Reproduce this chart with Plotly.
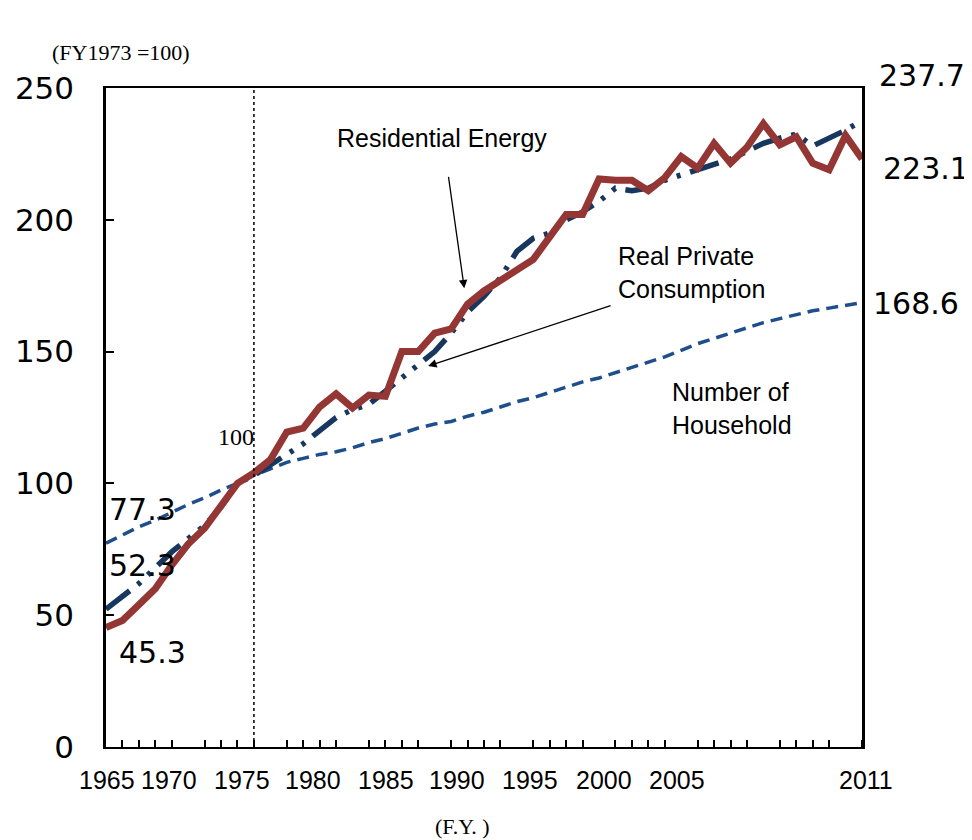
import plotly.graph_objects as go

years = list(range(1965, 2012))

residential_energy = [45.3, 48, 54, 60, 69, 77, 83, 92, 100, 104, 109, 119.5, 121, 129, 134,
                      128.6, 133.5, 133, 150, 150, 157, 158.6, 168, 173, 177, 181, 185, 193.5,
                      202, 202, 215.5, 215, 215, 211, 216, 224, 219.6, 229, 221.5, 227.5, 236.5,
                      228.4, 231.5, 221.5, 219, 232, 223.1]

real_private_consumption = [52.3, 57, 62, 68, 74, 79, 84, 91, 100, 103, 107, 111, 115, 120, 125,
                            128, 130, 135, 140, 145, 150, 157, 165, 171, 178, 188, 193, 195,
                            200, 203, 207, 212, 211, 212, 215, 217, 219, 221, 223, 226, 229,
                            231, 232.5, 228, 231, 234, 237.7]

number_of_household = [77.3, 80.5, 83.5, 86, 89, 92, 94.5, 97.5, 100, 103, 105.5, 108, 109.5, 111,
                       112, 113.5, 115.5, 117, 119, 121, 122.5, 123.5, 125.5, 127, 129, 131, 132.5,
                       134.5, 136.5, 138.5, 140, 142, 144, 146, 148, 150.5, 153, 155, 157, 159,
                       161, 162.5, 164, 165.5, 166.5, 167.5, 168.6]

x_tick_labels = ["1965", "1970", "1975", "1980", "1985", "1990", "1995", "2000", "2005", "2011"]
x_tick_positions = [1965.06, 1968.83, 1973.28, 1977.6, 1982.04, 1986.36, 1990.8, 1995.3, 1999.75, 2011.26]
y_tick_values = [0, 50, 100, 150, 200, 250]

base_year_line = 1974
x_min, x_max = 1965, 2011

red = "#943634"
navy = "#17375E"
hh_blue = "#1F4E8C"

fig = go.Figure()

fig.add_trace(go.Scatter(x=years, y=number_of_household, mode="lines",
                         line=dict(color=hh_blue, width=3.5, dash="12px,7px"),
                         name="Number of Household", hoverinfo="skip"))
fig.add_trace(go.Scatter(x=years, y=real_private_consumption, mode="lines",
                         line=dict(color=navy, width=5.5, dash="30px,10px,4px,10px,4px,10px"),
                         name="Real Private Consumption", hoverinfo="skip"))
fig.add_trace(go.Scatter(x=years, y=residential_energy, mode="lines",
                         line=dict(color=red, width=7),
                         name="Residential Energy", hoverinfo="skip"))

fig.add_shape(type="line", x0=base_year_line, x1=base_year_line, y0=0, y1=250,
              xref="x", yref="y", line=dict(color="black", width=1.5, dash="dot"))

num_font = dict(family="DejaVu Sans", size=30, color="black")
txt_font = dict(family="Liberation Sans", size=25, color="black")
serif_font = dict(family="Liberation Serif", size=22, color="black")
xtick_font = dict(family="Liberation Sans", size=25, color="black")

def px_x(p):
    return (p - 106) / 756.0

def px_y(p):
    return (747 - p) / 659.0

annos = [
    dict(text="(FY1973 =100)", x=px_x(50), y=px_y(52), xanchor="left", yanchor="middle", font=serif_font),
    dict(text="(F.Y. )", x=px_x(462), y=px_y(826), xanchor="center", yanchor="middle", font=serif_font),
    dict(text="100", x=px_x(236), y=px_y(437), xanchor="center", yanchor="middle",
         font=dict(family="Liberation Serif", size=24, color="black")),
    dict(text="77.3", x=px_x(107), y=px_y(510), xanchor="left", yanchor="middle", font=num_font),
    dict(text="52.3", x=px_x(107), y=px_y(565), xanchor="left", yanchor="middle", font=num_font),
    dict(text="45.3", x=px_x(117), y=px_y(652), xanchor="left", yanchor="middle", font=num_font),
    dict(text="237.7", x=px_x(877), y=px_y(75), xanchor="left", yanchor="middle", font=num_font),
    dict(text="223.1", x=px_x(881), y=px_y(168), xanchor="left", yanchor="middle", font=num_font),
    dict(text="168.6", x=px_x(871), y=px_y(303), xanchor="left", yanchor="middle", font=num_font),
    dict(text="Residential Energy", x=px_x(442), y=px_y(138), xanchor="center", yanchor="middle", font=txt_font),
    dict(text="Real Private<br>Consumption", x=px_x(616), y=px_y(272), xanchor="left", yanchor="middle",
         align="left", font=txt_font),
    dict(text="Number of<br>Household", x=px_x(670), y=px_y(408), xanchor="left", yanchor="middle",
         align="left", font=txt_font),
]
for a in annos:
    a.update(xref="paper", yref="paper", showarrow=False)
    fig.add_annotation(**a)

# x tick labels (placed as in the reference, not exactly under the year ticks)
for lab, pos in zip(x_tick_labels, x_tick_positions):
    fig.add_annotation(text=lab, x=(pos - x_min) / (x_max - x_min), y=px_y(780), xref="paper", yref="paper",
                       xanchor="center", yanchor="middle", showarrow=False, font=xtick_font)

# arrows
fig.add_annotation(x=1986.8, y=174, xref="x", yref="y", ax=-16, ay=-113,
                   text="", showarrow=True, arrowhead=2, arrowsize=1.3, arrowwidth=1.3, arrowcolor="black")
fig.add_annotation(x=1984.6, y=144.5, xref="x", yref="y", ax=184, ay=-61,
                   text="", showarrow=True, arrowhead=2, arrowsize=1.3, arrowwidth=1.3, arrowcolor="black")

fig.update_layout(
    width=964, height=832,
    margin=dict(l=98, r=110, t=80, b=93, autoexpand=False),
    plot_bgcolor="white", paper_bgcolor="white",
    showlegend=False,
    xaxis=dict(range=[x_min, x_max], showgrid=False, zeroline=False, automargin=False,
               showline=True, linecolor="black", linewidth=2, mirror=True,
               showticklabels=False, ticks="",
               minor=dict(ticks="inside", dtick=1, tick0=1965, ticklen=7, tickcolor="black", tickwidth=1.5)),
    yaxis=dict(range=[0, 250], showgrid=False, zeroline=False, automargin=False,
               showline=True, linecolor="black", linewidth=2.5, mirror=True,
               tickmode="array", tickvals=y_tick_values,
               ticks="inside", ticklen=8, tickwidth=1.5, tickcolor="black",
               ticklabelstandoff=23,
               tickfont=dict(family="DejaVu Sans", size=31, color="black")),
)

fig.write_html("out.html")
